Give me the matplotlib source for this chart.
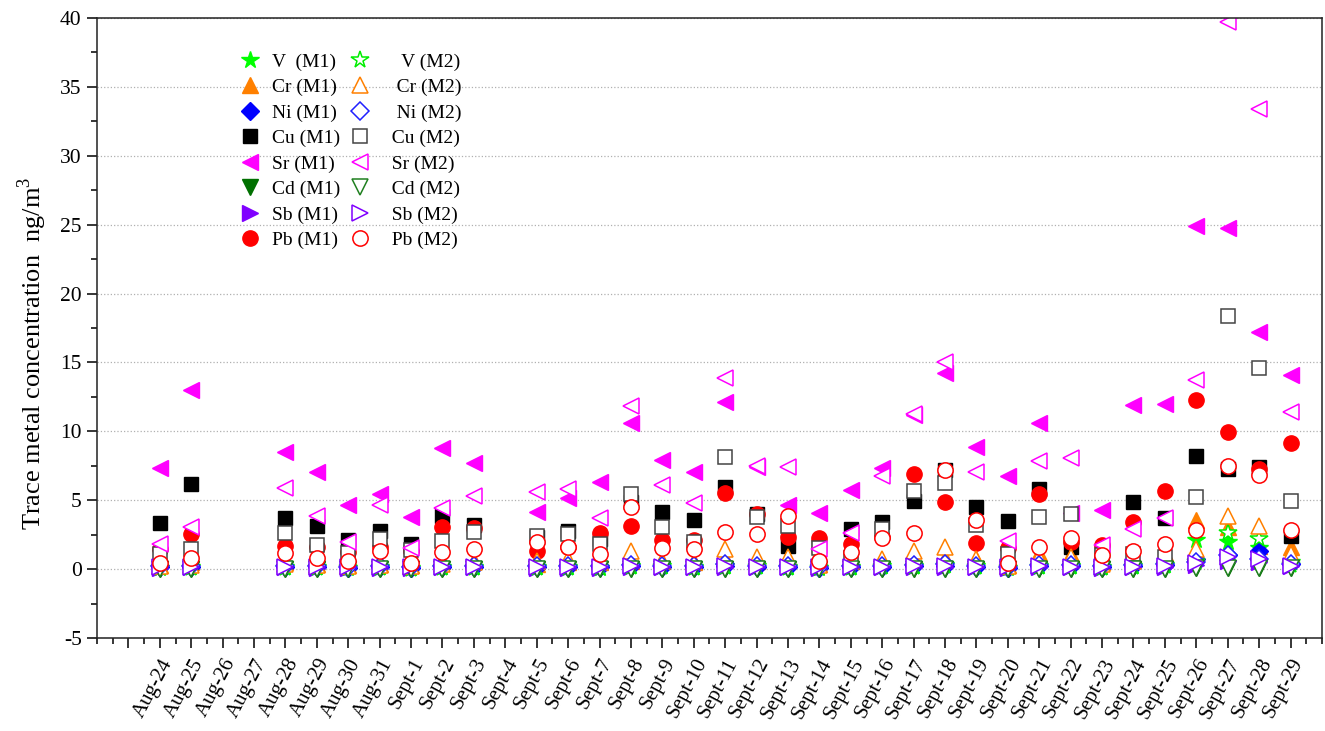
import numpy as np
import matplotlib.pyplot as plt
from matplotlib.ticker import MultipleLocator

plt.rcParams['font.family'] = ['Liberation Serif', 'DejaVu Serif']
plt.rcParams['mathtext.fontset'] = 'custom'
plt.rcParams['mathtext.rm'] = 'Liberation Serif'
plt.rcParams['axes.unicode_minus'] = False

N = None  # no sample on that day

dates = ['Aug-24', 'Aug-25', 'Aug-26', 'Aug-27', 'Aug-28', 'Aug-29', 'Aug-30', 'Aug-31',
         'Sept-1', 'Sept-2', 'Sept-3', 'Sept-4', 'Sept-5', 'Sept-6', 'Sept-7', 'Sept-8',
         'Sept-9', 'Sept-10', 'Sept-11', 'Sept-12', 'Sept-13', 'Sept-14', 'Sept-15',
         'Sept-16', 'Sept-17', 'Sept-18', 'Sept-19', 'Sept-20', 'Sept-21', 'Sept-22',
         'Sept-23', 'Sept-24', 'Sept-25', 'Sept-26', 'Sept-27', 'Sept-28', 'Sept-29']

# concentrations in ng/m3, M1 and M2
v_m1 = [0.1, 0.15, N, N, 0.15, 0.12, 0.1, 0.12, 0.08, 0.15, 0.15, N, 0.12, 0.12, 0.1, 0.2,
        0.2, 0.15, 0.25, 0.2, 0.15, 0.1, 0.15, 0.2, 0.25, 0.3, 0.2, 0.1, 0.25, 0.2, 0.15,
        0.2, 0.3, 2.13, 1.96, 1.5, 0.5]
v_m2 = [0.05, 0.08, N, N, 0.1, 0.06, 0.05, 0.08, 0.04, 0.1, 0.1, N, 0.08, 0.08, 0.06, 0.15,
        0.12, 0.1, 0.18, 0.12, 0.1, 0.06, 0.1, 0.12, 0.15, 0.2, 0.15, 0.06, 0.15, 0.12, 0.08,
        0.12, 0.2, 0.5, 2.63, 2.2, 0.3]
cr_m1 = [0.3, 0.5, N, N, 0.5, 0.4, 0.3, 0.4, 0.3, 0.6, 0.6, N, 0.4, 0.5, 0.5, 0.6,
         0.6, 0.5, 0.8, 0.6, 0.7, 0.4, 0.6, 0.6, 0.7, 0.8, 0.75, 0.3, 1.2, 1.1, 0.5,
         1.0, 1.2, 3.6, 3.04, 1.71, 1.59]
cr_m2 = [0.2, 0.3, N, N, 0.4, 0.3, 0.2, 0.3, 0.2, 0.4, 0.5, N, 0.6, 0.7, 0.5, 1.35,
         0.6, 0.5, 1.47, 0.87, 0.87, 0.3, 0.6, 0.75, 1.3, 1.64, 0.7, 0.2, 0.9, 0.9, 0.4,
         0.6, 0.8, 1.43, 3.84, 3.16, 1.1]
ni_m1 = [0.12, 0.15, N, N, 0.15, 0.12, 0.1, 0.12, 0.1, 0.15, 0.15, N, 0.12, 0.15, 0.12, 0.2,
         0.18, 0.15, 0.22, 0.18, 0.15, 0.1, 0.15, 0.18, 0.2, 0.25, 0.18, 0.1, 0.2, 0.2, 0.15,
         0.2, 0.3, 0.75, 1.0, 1.35, 0.4]
ni_m2 = [0.2, 0.25, N, N, 0.25, 0.2, 0.18, 0.2, 0.15, 0.25, 0.25, N, 0.2, 0.22, 0.2, 0.3,
         0.25, 0.22, 0.35, 0.25, 0.22, 0.15, 0.22, 0.25, 0.3, 0.35, 0.25, 0.15, 0.3, 0.3, 0.2,
         0.3, 0.4, 0.5, 1.0, 0.75, 0.35]
cu_m1 = [3.33, 6.18, N, N, 3.72, 3.16, 2.08, 2.8, 1.84, 3.89, 3.21, N, 2.3, 2.8, 2.2, 4.9,
         4.13, 3.6, 5.94, 4.0, 1.71, 1.7, 2.9, 3.4, 4.98, 7.2, 4.54, 3.48, 5.82, 1.6, 1.3,
         4.9, 3.72, 8.19, 7.27, 7.39, 2.39]
cu_m2 = [1.1, 1.43, N, N, 2.61, 1.76, 1.2, 2.2, 1.4, 2.05, 2.68, N, 2.39, 2.56, 1.84, 5.46,
         3.04, 1.96, 8.14, 3.77, 3.16, 1.5, 0.8, 2.92, 5.7, 6.23, 3.21, 1.11, 3.77, 4.0, 1.0,
         1.1, 0.87, 5.24, 18.4, 14.6, 4.93]
sr_m1 = [7.32, 13.0, N, N, 8.53, 7.08, 4.66, 5.43, 3.77, 8.79, 7.7, N, 4.18, 5.14, 6.3, 10.6,
         7.92, 7.03, 12.15, 7.4, 4.66, 4.08, 5.75, 7.32, 11.2, 14.2, 8.84, 6.74, 10.6, 4.05, 4.32,
         11.9, 12.0, 24.9, 24.76, 17.2, 14.1]
sr_m2 = [1.79, 3.09, N, N, 5.89, 3.84, 1.96, 4.66, 1.52, 4.44, 5.34, N, 5.63, 5.82, 3.7, 11.86,
         6.14, 4.81, 13.9, 7.46, 7.39, 1.43, 2.63, 6.74, 11.28, 15.0, 7.08, 2.03, 7.87, 8.07, 1.76,
         2.92, 3.7, 13.7, 39.7, 33.4, 11.4]
cd_m1 = [0.02, 0.02, N, N, 0.02, 0.02, 0.02, 0.02, 0.02, 0.02, 0.02, N, 0.02, 0.02, 0.02, 0.03,
         0.03, 0.02, 0.03, 0.02, 0.02, 0.02, 0.02, 0.02, 0.03, 0.03, 0.02, 0.02, 0.03, 0.02, 0.02,
         0.03, 0.03, 0.05, 0.05, 0.05, 0.05]
cd_m2 = [0.0, 0.0, N, N, 0.0, 0.0, 0.0, 0.0, 0.0, 0.0, 0.0, N, 0.0, 0.0, 0.0, 0.01,
         0.01, 0.0, 0.01, 0.0, 0.0, 0.0, 0.0, 0.0, 0.01, 0.01, 0.0, 0.0, 0.01, 0.0, 0.0,
         0.01, 0.01, 0.05, 0.1, 0.08, 0.05]
sb_m1 = [0.1, 0.12, N, N, 0.12, 0.1, 0.1, 0.1, 0.08, 0.12, 0.12, N, 0.1, 0.1, 0.1, 0.15,
         0.12, 0.12, 0.15, 0.12, 0.12, 0.08, 0.12, 0.12, 0.15, 0.15, 0.12, 0.08, 0.15, 0.12, 0.1,
         0.12, 0.15, 0.3, 0.6, 0.5, 0.2]
sb_m2 = [0.15, 0.18, N, N, 0.18, 0.15, 0.12, 0.15, 0.12, 0.18, 0.18, N, 0.15, 0.15, 0.15, 0.2,
         0.18, 0.18, 0.22, 0.18, 0.18, 0.12, 0.18, 0.18, 0.2, 0.22, 0.18, 0.12, 0.2, 0.18, 0.15,
         0.18, 0.2, 0.47, 0.9, 0.7, 0.2]
pb_m1 = [1.43, 2.56, N, N, 1.71, 1.6, 1.23, 1.64, 1.35, 3.09, 2.97, N, 1.28, 1.6, 2.63, 3.12,
         2.08, 2.13, 5.56, 4.0, 2.32, 2.25, 1.79, 2.3, 6.91, 4.86, 1.91, 1.52, 5.46, 2.0, 1.76,
         3.45, 5.68, 12.25, 9.98, 7.27, 9.15]
pb_m2 = [0.43, 0.82, N, N, 1.18, 0.82, 0.58, 1.28, 0.48, 1.26, 1.43, N, 1.96, 1.64, 1.11, 4.49,
         1.52, 1.47, 2.73, 2.56, 3.89, 0.58, 1.23, 2.27, 2.61, 7.22, 3.6, 0.43, 1.64, 2.25, 1.04,
         1.28, 1.84, 2.87, 7.46, 6.86, 2.87]

metals = ['V', 'Cr', 'Ni', 'Cu', 'Sr', 'Cd', 'Sb', 'Pb']
m1_labels = ['V  (M1)', 'Cr (M1)', 'Ni (M1)', 'Cu (M1)', 'Sr (M1)', 'Cd (M1)', 'Sb (M1)', 'Pb (M1)']
m2_labels = ['    V (M2)', '   Cr (M2)', '   Ni (M2)', '  Cu (M2)', '  Sr (M2)', '  Cd (M2)',
             '  Sb (M2)', '  Pb (M2)']
m1_data = [v_m1, cr_m1, ni_m1, cu_m1, sr_m1, cd_m1, sb_m1, pb_m1]
m2_data = [v_m2, cr_m2, ni_m2, cu_m2, sr_m2, cd_m2, sb_m2, pb_m2]
markers = ['*', '^', 'D', 's', '<', 'v', '>', 'o']
m1_colors = ['#00ff00', '#ff8000', '#0000ff', '#000000', '#ff00ff', '#007000', '#8000ff', '#ff0000']
m2_colors = ['#00ee00', '#ff8000', '#2020ff', '#444444', '#ff00ff', '#208020', '#8000ff', '#ff0000']
sizes = [13, 11, 9, 9.5, 12, 11, 12, 11]

x = np.arange(len(dates)) + 2

fig = plt.figure(figsize=(13.25, 7.31), dpi=100)
ax = fig.add_axes([0.0732, 0.1272, 0.9245, 0.8482])

h1, h2 = [], []
for lab, d, mk, c, ms in zip(m1_labels, m1_data, markers, m1_colors, sizes):
    ln, = ax.plot(x, np.array(d, dtype=float), linestyle='none', marker=mk, ms=ms,
                  color=c, mec=c, mew=1, label=lab)
    h1.append(ln)
for lab, d, mk, c, ms in zip(m2_labels, m2_data, markers, m2_colors, sizes):
    ln, = ax.plot(x, np.array(d, dtype=float), linestyle='none', marker=mk, ms=ms,
                  mfc='white', mec=c, mew=1.1, label=lab)
    h2.append(ln)

ax.set_xlim(0, 39)
ax.set_ylim(-5, 40)
ax.yaxis.set_major_locator(MultipleLocator(5))
ax.yaxis.set_minor_locator(MultipleLocator(2.5))
ax.set_xticks(np.arange(1, 39))
ax.set_xticklabels([''] + dates)
ax.xaxis.set_minor_locator(MultipleLocator(0.5))
ax.tick_params(which='major', length=7.5, width=1.1, labelsize=15.5)
ax.tick_params(which='minor', length=4, width=1.1)
ax.tick_params(axis='x', pad=5, labelsize=15)
for lab in ax.get_xticklabels():
    lab.set_rotation(62)
    lab.set_ha('right')
    lab.set_va('top')
    lab.set_rotation_mode('anchor')
for s in ax.spines.values():
    s.set_linewidth(1.1)
    s.set_color('#222222')

ax.yaxis.grid(True, which='major', linestyle=':', color='#b0b0b0', linewidth=0.9)
ax.set_axisbelow(True)

ax.set_ylabel('Trace metal concentration  ng/m$^3$', fontsize=19)
ax.yaxis.set_label_coords(-0.039, 0.46)

ax.legend(h1 + h2, [h.get_label() for h in h1 + h2], ncol=2, loc='upper left',
          bbox_to_anchor=(0.1026, 0.9715), frameon=False, fontsize=14,
          handlelength=1.0, handletextpad=0.65, columnspacing=0.5, labelspacing=0.4)

fig.savefig('out.png', dpi=100)
